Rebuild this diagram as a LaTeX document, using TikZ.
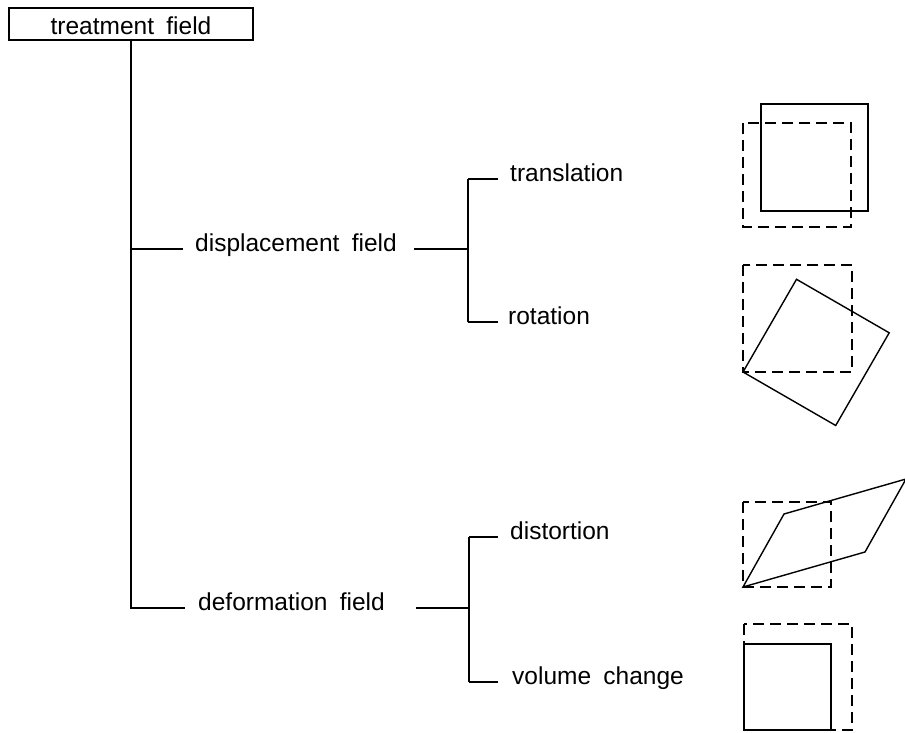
\documentclass[tikz,border=0pt]{standalone}
\usepackage{fontspec}
\setmainfont{Liberation Sans}[WordSpace=1.8]
\begin{document}
\begin{tikzpicture}[x=1pt,y=-1pt,
    every node/.style={font=\fontsize{24.5}{29}\selectfont},
    tree/.style={line width=1.3pt},
    lbl/.style={anchor=mid west, inner xsep=0pt, inner ysep=2pt},
    rootbox/.style={draw, line width=1.3pt, minimum width=244pt, minimum height=32pt,
                    inner sep=0pt, text height=22pt, text depth=0pt},
    outline/.style={line width=1.4pt, line join=miter},
    ghost/.style={line width=1.7pt, dash pattern=on 11pt off 6pt, line join=miter}]
  \useasboundingbox (0,0) rectangle (905,733);

  % root of the tree
  \node[rootbox] (root) at (131,24) {treatment field};

  % first level: trunk and its two branches
  \coordinate (jd) at (131,249);
  \coordinate (jf) at (131,608);
  \node[lbl] (disp) at (195,249) {displacement field};
  \node[lbl] (def)  at (198,608) {deformation field};
  \draw[tree] (root.south) -- (jf) -- ([xshift=-13pt]def.mid west);
  \draw[tree] (jd) -- ([xshift=-12pt]disp.mid west);

  % second level: displacement field
  \coordinate (dl) at (414,249);
  \coordinate (bd) at (468,249);
  \coordinate (bdt) at (468,179);
  \coordinate (bdb) at (468,322);
  \node[lbl] (trans) at (510,179) {translation};
  \node[lbl] (rot)   at (508,322) {rotation};
  \draw[tree] (dl) -- (bd);
  \draw[tree] (bdt) -- (bdb);
  \draw[tree] (bdt) -- ([xshift=-12pt]trans.mid west);
  \draw[tree] (bdb) -- ([xshift=-10pt]rot.mid west);

  % second level: deformation field
  \coordinate (fl) at (416,608);
  \coordinate (bf) at (469,608);
  \coordinate (bft) at (469,537);
  \coordinate (bfb) at (469,682);
  \node[lbl] (dist) at (510,537) {distortion};
  \node[lbl] (vol)  at (512,682) {volume change};
  \draw[tree] (fl) -- (bf);
  \draw[tree] (bft) -- (bfb);
  \draw[tree] (bft) -- ([xshift=-12pt]dist.mid west);
  \draw[tree] (bfb) -- ([xshift=-14pt]vol.mid west);

  % translation sketch
  \draw[ghost] (743,123) rectangle (851,227);
  \draw[outline] (761,104) rectangle (868,211);

  % rotation sketch
  \draw[ghost] (743,265) rectangle (852,372);
  \draw[outline] (743,372) -- (796.5,279.3) -- (889.2,332.8) -- (835.7,425.5) -- cycle;

  % distortion sketch
  \draw[ghost] (743,502) rectangle (831,587);
  \draw[outline] (743,587) -- (784,514) -- (906,479) -- (865,552) -- cycle;

  % volume change sketch
  \draw[ghost] (744,624) rectangle (852,730);
  \draw[outline] (744,730) rectangle (831,644);
\end{tikzpicture}
\end{document}
